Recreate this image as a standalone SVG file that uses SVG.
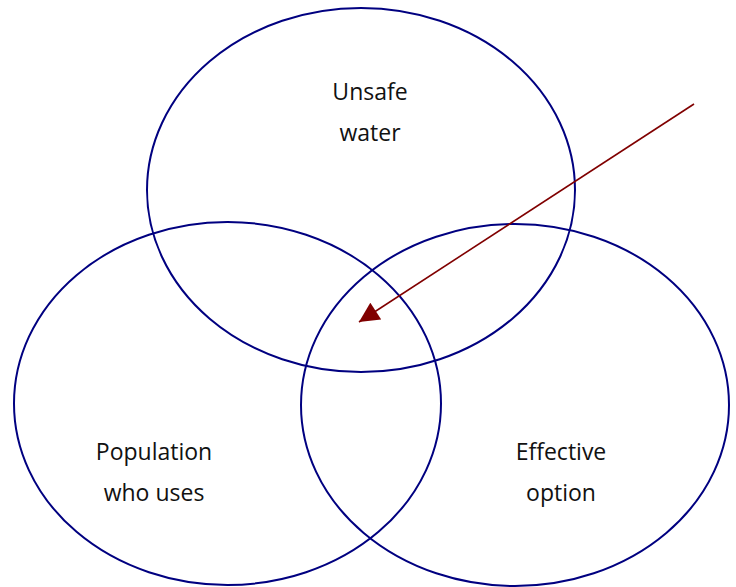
<svg xmlns="http://www.w3.org/2000/svg" width="736" height="587" viewBox="0 0 736 587">
<style>
.set{fill:none;stroke:#000080;stroke-width:2}
.lbl{font-family:"Open Sans","Liberation Sans",sans-serif;font-size:23px;fill:#111111;text-anchor:middle}
.arr{stroke:#800000;stroke-width:1.6;fill:none}
</style>
<defs>
<marker id="ah" viewBox="0 0 10 10" refX="10" refY="5" markerUnits="userSpaceOnUse" markerWidth="22" markerHeight="20" orient="auto">
<path d="M0,0 L10,5 L0,10 Z" fill="#800000"/>
</marker>
</defs>
<rect width="736" height="587" fill="#ffffff"/>
<g id="unsafe-water">
<ellipse class="set" cx="361" cy="190" rx="214" ry="182"/>
<text class="lbl" x="370" y="100">Unsafe</text>
<text class="lbl" x="370" y="141">water</text>
</g>
<g id="population">
<ellipse class="set" cx="227.5" cy="403.5" rx="213.5" ry="181.5"/>
<text class="lbl" x="154" y="460">Population</text>
<text class="lbl" x="154" y="501">who uses</text>
</g>
<g id="effective-option">
<ellipse class="set" cx="515" cy="405" rx="214" ry="181"/>
<text class="lbl" x="561" y="460">Effective</text>
<text class="lbl" x="561" y="501">option</text>
</g>
<g id="connectors">
<line class="arr" x1="694" y1="104" x2="359" y2="322" marker-end="url(#ah)"/>
</g>
</svg>
